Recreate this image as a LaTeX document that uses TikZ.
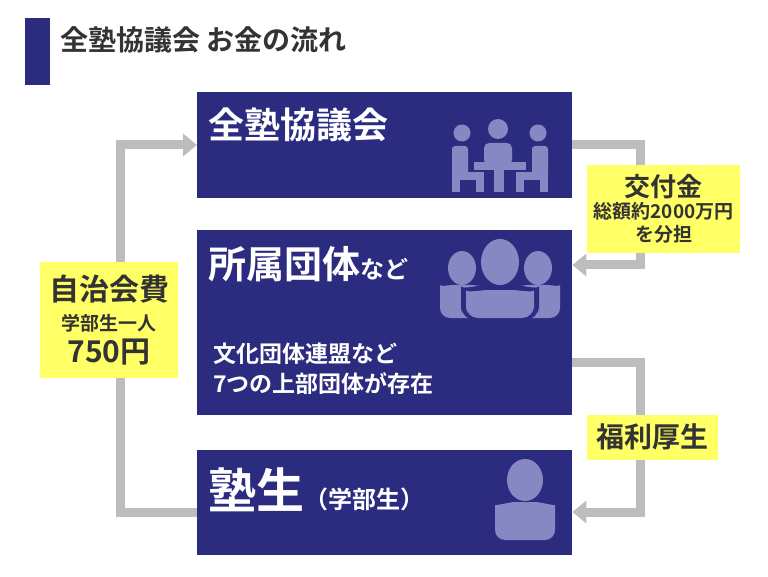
\documentclass[tikz,border=0pt]{standalone}
\usepackage{fontspec}
\setmainfont{Noto Sans CJK JP}[BoldFont={Noto Sans CJK JP Bold}]
\newfontfamily\jp{Noto Sans CJK JP Bold}
\usetikzlibrary{arrows.meta}
\definecolor{navy}{HTML}{2B2C80}
\definecolor{icon}{HTML}{8787C4}
\definecolor{flow}{HTML}{BDBDBD}
\definecolor{lbl}{HTML}{FFFF66}
\definecolor{ttl}{HTML}{333333}
\begin{document}
\begin{tikzpicture}[x=1pt,y=-1pt,
  panel/.style={fill=navy},
  flowline/.style={draw=flow,line width=9pt,-{Triangle[length=14pt,width=22pt]}},
  tag/.style={fill=lbl,align=center,text=ttl,font=\jp,inner sep=0pt},
  wt/.style={text=white,anchor=west,font=\jp,inner sep=0pt},
  ic/.style={fill=icon}]
\useasboundingbox (0,0) rectangle (768,577);
\fill[white] (0,0) rectangle (768,577);
\fill[navy] (25,18) rectangle (50,85);
\node[anchor=west,text=ttl,font=\jp\fontsize{28}{32}\selectfont,inner sep=0pt] (title) at (60,40) {全塾協議会 お金の流れ};
\node[panel,minimum width=375pt,minimum height=106pt,anchor=north west,inner sep=0pt] (b1) at (197,92) {};
\node[panel,minimum width=375pt,minimum height=185pt,anchor=north west,inner sep=0pt] (b2) at (197,230) {};
\node[panel,minimum width=375pt,minimum height=105pt,anchor=north west,inner sep=0pt] (b3) at (197,450) {};
\node[wt,font=\jp\fontsize{36}{40}\selectfont] (t1) at (208,125) {全塾協議会};
\node[wt] (t2) at (208,264) {{\fontsize{38}{42}\selectfont 所属団体}{\fontsize{24}{28}\selectfont など}};
\node[wt,font=\jp\fontsize{23}{26}\selectfont] (t2a) at (213,354) {文化団体連盟など};
\node[wt,font=\jp\fontsize{23}{26}\selectfont] (t2b) at (213,384) {7つの上部団体が存在};
\node[wt] (t3) at (208,490) {{\fontsize{48}{52}\selectfont 塾生}{\fontsize{24}{28}\selectfont （学部生）}};
% flows
\coordinate (l1) at (120,512); \coordinate (l2) at (120,145);
\draw[flowline] (b3.west|-l1) -- (l1) -- (l2) -- (b1.west|-l2);
\coordinate (r1) at (640,145); \coordinate (r2) at (640,265);
\draw[flowline] (b1.east|-r1) -- (r1) -- (r2) -- (b2.east|-r2);
\coordinate (r3) at (640,362); \coordinate (r4) at (640,512);
\draw[flowline] (b2.east|-r3) -- (r3) -- (r4) -- (b3.east|-r4);
% labels
\node[tag,minimum width=138pt,minimum height=116pt] (k1) at (109,320) {\fontsize{30}{34}\selectfont 自治会費\\[10pt]\fontsize{19}{22}\selectfont 学部生一人\\[6pt]\fontsize{30}{34}\selectfont 750円};
\node[tag,minimum width=153pt,minimum height=88pt] (k2) at (663.5,209) {\fontsize{26}{30}\selectfont 交付金\\[2pt]\fontsize{19}{24}\selectfont 総額約2000万円\\[5pt]\fontsize{19}{24}\selectfont を分担};
\node[tag,minimum width=131pt,minimum height=45pt] (k3) at (652.5,437) {\fontsize{28}{32}\selectfont 福利厚生};
% icon 1 meeting
\fill[ic] (498,129) circle (10);
\fill[ic] (462,133) circle (8.5);
\fill[ic] (538,133) circle (8.5);
\fill[ic,rounded corners=5pt] (484,143) rectangle (512,165);
\fill[ic] (474,162) rectangle (526,170);
\fill[ic] (494,170) rectangle (504,192);
\fill[ic,rounded corners=3pt] (452,146) rectangle (468,178);
\fill[ic] (452,172) rectangle (484,180); \fill[ic] (476,176) rectangle (484,192); \fill[ic] (452,176) rectangle (460,192);
\fill[ic,rounded corners=3pt] (532,146) rectangle (548,178);
\fill[ic] (516,172) rectangle (548,180); \fill[ic] (516,176) rectangle (524,192); \fill[ic] (540,176) rectangle (548,192);
% icon 2 group
\fill[ic] (462,268) ellipse (14 and 17);
\fill[ic] (538,268) ellipse (14 and 17);
\fill[ic,rounded corners=10pt] (440,318) -- (440,295) .. controls (440,287) and (450,285) .. (462,285) .. controls (474,285) and (484,287) .. (484,295) -- (484,318) -- cycle;
\fill[ic,rounded corners=10pt] (516,318) -- (516,295) .. controls (516,287) and (526,285) .. (538,285) .. controls (550,285) and (560,287) .. (560,295) -- (560,318) -- cycle;
\fill[navy] (500,262) ellipse (23 and 27);
\fill[navy,rounded corners=14pt] (461,320) -- (461,300) .. controls (461,290) and (480,285) .. (500,285) .. controls (520,285) and (539,290) .. (539,300) -- (539,320) -- cycle;
\fill[ic] (500,262) ellipse (19 and 23);
\fill[ic,rounded corners=12pt] (466,318) -- (466,302) .. controls (466,293) and (482,290) .. (500,290) .. controls (518,290) and (534,293) .. (534,302) -- (534,318) -- cycle;
% icon 3 person
\fill[ic] (525,480) ellipse (18 and 21);
\fill[ic,rounded corners=10pt] (495,540) -- (495,515) .. controls (495,506) and (510,502) .. (525,502) .. controls (540,502) and (555,506) .. (555,515) -- (555,540) -- cycle;
\end{tikzpicture}
\end{document}
